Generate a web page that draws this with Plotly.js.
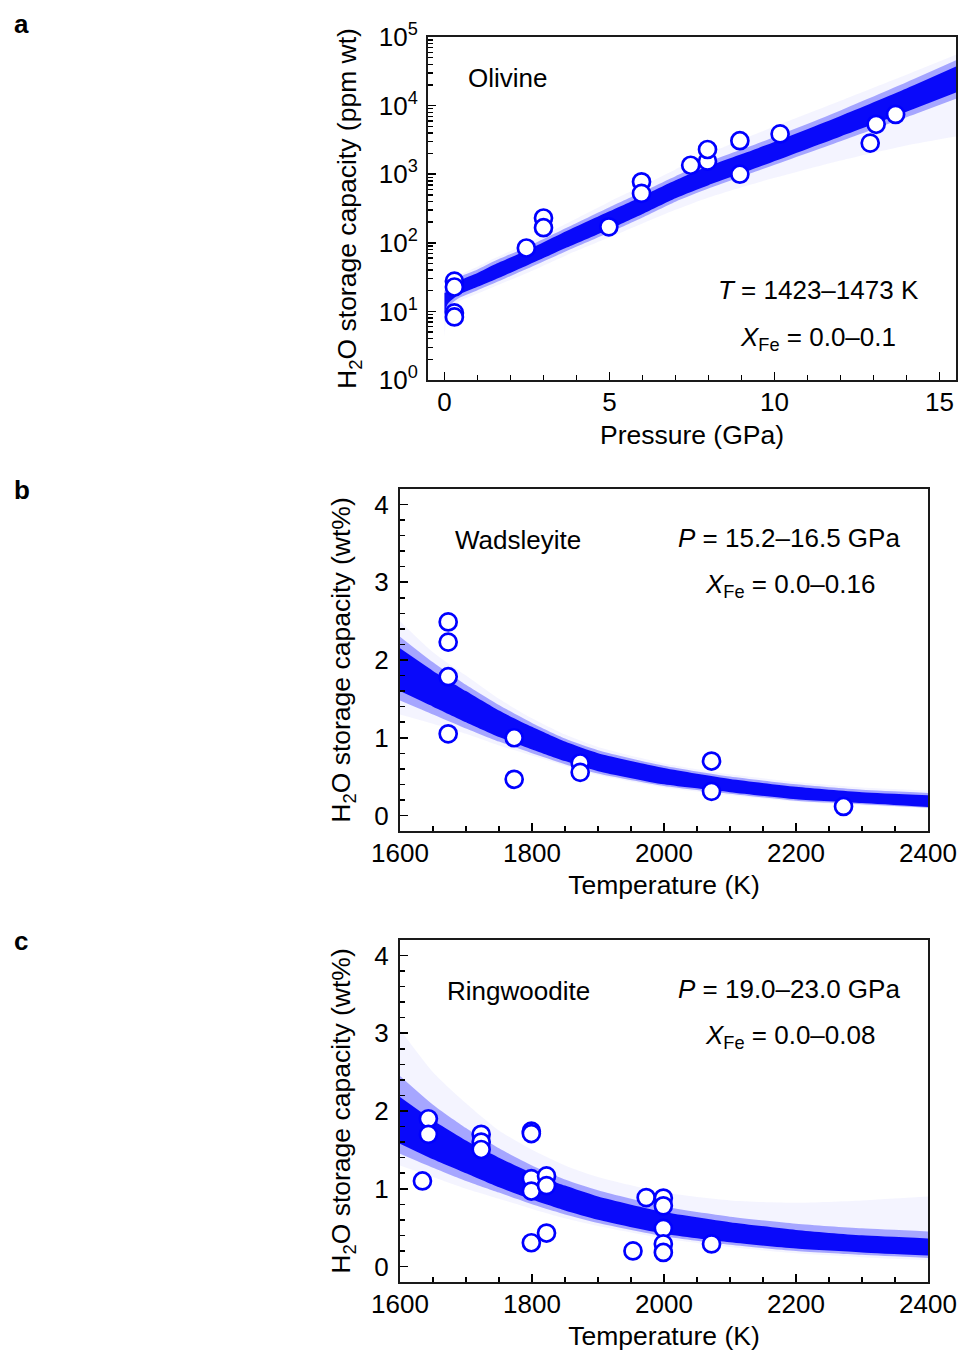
<!DOCTYPE html>
<html>
<head>
<meta charset="utf-8">
<script src="https://cdn.plot.ly/plotly-3.0.1.min.js"></script>
<style>html,body{margin:0;padding:0;background:#fff;}#chart{width:960px;height:1352px;}</style>
</head>
<body>
<div id="chart"></div>
<script>
// ---------- Panel a: Olivine (pressure GPa, H2O ppm wt) ----------
const olivinePressure = [0.3, 0.3, 0.3, 0.3, 2.48, 3.0, 3.0, 4.98, 5.97, 5.97, 7.46, 7.97, 7.97, 8.95, 8.95, 10.17, 12.9, 13.08, 13.67];
const olivineWater = [27.6, 22.7, 9.5, 8.3, 84, 230, 166, 171, 775, 525, 1350, 1550, 2290, 3080, 1000, 3870, 2840, 5340, 7440];
const olivineBandP = [0, 0.1, 0.3, 0.5, 1, 1.5, 2.5, 3.7, 5, 6, 7, 8, 9.5, 12, 14, 15.5];
const olivineCoreLow = [9.3, 12.9, 15.8, 18.2, 22.9, 28.8, 46.8, 85.1, 158, 263, 447, 692, 1259, 3548, 8128, 15490];
const olivineCoreHigh = [18.6, 19.5, 24, 28.8, 36.3, 47.9, 77.6, 148, 288, 479, 813, 1318, 2399, 7079, 17780, 37150];
const olivineMidLow = [7.1, 11.5, 14.1, 16.2, 20.4, 25.7, 41.7, 75.9, 141, 234, 398, 617, 1122, 3020, 6761, 12590];
const olivineMidHigh = [20, 21.4, 26.9, 32.4, 40.7, 53.7, 87.1, 166, 331, 550, 933, 1514, 2818, 8511, 21880, 45710];
const olivineOuterLow = [4.3, 10, 12.6, 14.5, 18.2, 22.9, 36.3, 66.1, 120, 191, 302, 457, 759, 1585, 2630, 3548];
const olivineOuterHigh = [20.9, 22.9, 28.8, 34.7, 44.7, 58.9, 97.7, 191, 398, 676, 1175, 1995, 3981, 11750, 28180, 54950];

// ---------- Panel b: Wadsleyite (temperature K, H2O wt%) ----------
const wadsTemp = [1673, 1673, 1673, 1673, 1773, 1773, 1873, 1873, 2072, 2072, 2272];
const wadsWater = [2.49, 2.23, 1.785, 1.05, 1.0, 0.465, 0.675, 0.555, 0.70, 0.31, 0.116];
const wadsBandT = [1600, 1650, 1700, 1750, 1800, 1850, 1900, 2000, 2100, 2200, 2300, 2400];
const wadsCoreLow = [1.6, 1.4, 1.2, 1.01, 0.85, 0.7, 0.57, 0.4, 0.3, 0.21, 0.16, 0.11];
const wadsCoreHigh = [2.15, 1.86, 1.6, 1.35, 1.14, 0.95, 0.8, 0.61, 0.47, 0.37, 0.3, 0.26];
const wadsMidLow = [1.48, 1.3, 1.12, 0.95, 0.8, 0.66, 0.54, 0.38, 0.28, 0.19, 0.145, 0.1];
const wadsMidHigh = [2.3, 1.97, 1.68, 1.42, 1.19, 0.99, 0.84, 0.64, 0.5, 0.4, 0.33, 0.29];
const wadsOuterLow = [1.3, 1.18, 1.05, 0.9, 0.77, 0.64, 0.52, 0.36, 0.26, 0.18, 0.13, 0.09];
const wadsOuterHigh = [2.5, 2.1, 1.8, 1.5, 1.25, 1.04, 0.88, 0.67, 0.53, 0.43, 0.36, 0.32];

// ---------- Panel c: Ringwoodite (temperature K, H2O wt%) ----------
const ringTemp = [1634, 1643, 1643, 1723, 1723, 1723, 1799, 1799, 1799, 1799, 1799, 1822, 1822, 1822, 1953, 1973, 1999, 1999, 1999, 1999, 1999, 2072];
const ringWater = [1.10, 1.90, 1.70, 1.70, 1.60, 1.505, 1.74, 1.71, 1.13, 0.97, 0.305, 1.165, 1.04, 0.43, 0.20, 0.886, 0.88, 0.78, 0.49, 0.29, 0.18, 0.29];
const ringBandT = [1600, 1650, 1700, 1750, 1800, 1850, 1900, 2000, 2100, 2200, 2300, 2400];
const ringCoreLow = [1.58, 1.38, 1.2, 1.02, 0.86, 0.72, 0.6, 0.42, 0.31, 0.23, 0.18, 0.14];
const ringCoreHigh = [2.18, 1.88, 1.62, 1.4, 1.2, 1.04, 0.9, 0.7, 0.57, 0.47, 0.4, 0.36];
const ringMidLow = [1.45, 1.27, 1.1, 0.95, 0.8, 0.67, 0.56, 0.39, 0.28, 0.2, 0.15, 0.11];
const ringMidHigh = [2.45, 2.08, 1.78, 1.52, 1.3, 1.12, 0.98, 0.77, 0.64, 0.55, 0.49, 0.45];
const ringOuterLow = [1.3, 1.15, 1.0, 0.87, 0.74, 0.62, 0.52, 0.36, 0.25, 0.17, 0.12, 0.08];
const ringOuterHigh = [3.05, 2.5, 2.1, 1.75, 1.5, 1.3, 1.15, 0.95, 0.85, 0.82, 0.85, 0.9];

// ---------- Tick labels ----------
const pressureTicks = [0, 5, 10, 15];
const pressureMinor = [1, 2, 3, 4, 6, 7, 8, 9, 11, 12, 13, 14];
const logTicks = [1, 10, 100, 1000, 10000, 100000];
const logTickText = ['10<sup>0</sup>', '10<sup>1</sup>', '10<sup>2</sup>', '10<sup>3</sup>', '10<sup>4</sup>', '10<sup>5</sup>'];
const tempTicks = [1600, 1800, 2000, 2200, 2400];
const tempMinor = [1650, 1700, 1750, 1850, 1900, 1950, 2050, 2100, 2150, 2250, 2300, 2350];
const wtTicks = [0, 1, 2, 3, 4];
const wtMinor = [-0.2, 0.2, 0.4, 0.6, 0.8, 1.2, 1.4, 1.6, 1.8, 2.2, 2.4, 2.6, 2.8, 3.2, 3.4, 3.6, 3.8, 4.2];

const logMinor = [];
[1, 10, 100, 1000, 10000].forEach(d => { for (let k = 2; k <= 9; k++) logMinor.push(d * k); });

const FONT = 'Liberation Sans, Arial, Helvetica, sans-serif';
const BLUE = '#0000ff';
const W = 960, H = 1352;
const px = v => v / W;
const py = v => 1 - v / H;

function band(x, outerLow, outerHigh, midLow, midHigh, coreLow, coreHigh, xa, ya, shape) {
  const base = {x: x, xaxis: xa, yaxis: ya, mode: 'lines', hoverinfo: 'skip', showlegend: false,
                line: {width: 0, shape: shape, smoothing: 0.6}};
  return [
    Object.assign({}, base, {y: outerLow}),
    Object.assign({}, base, {y: outerHigh, fill: 'tonexty', fillcolor: 'rgba(60,60,255,0.055)'}),
    Object.assign({}, base, {y: midLow}),
    Object.assign({}, base, {y: midHigh, fill: 'tonexty', fillcolor: 'rgba(20,20,255,0.35)'}),
    Object.assign({}, base, {y: coreLow}),
    Object.assign({}, base, {y: coreHigh, fill: 'tonexty', fillcolor: 'rgba(0,0,250,0.95)'})
  ];
}
function pts(x, y, xa, ya) {
  return {x: x, y: y, xaxis: xa, yaxis: ya, mode: 'markers', showlegend: false, cliponaxis: false,
          marker: {symbol: 'circle', size: 17, color: '#ffffff', line: {color: BLUE, width: 2.7}}};
}

const traces = [].concat(
  band(olivineBandP, olivineOuterLow, olivineOuterHigh, olivineMidLow, olivineMidHigh, olivineCoreLow, olivineCoreHigh, 'x', 'y', 'spline'),
  [pts(olivinePressure, olivineWater, 'x', 'y')],
  band(wadsBandT, wadsOuterLow, wadsOuterHigh, wadsMidLow, wadsMidHigh, wadsCoreLow, wadsCoreHigh, 'x2', 'y2', 'spline'),
  [pts(wadsTemp, wadsWater, 'x2', 'y2')],
  band(ringBandT, ringOuterLow, ringOuterHigh, ringMidLow, ringMidHigh, ringCoreLow, ringCoreHigh, 'x3', 'y3', 'spline'),
  [pts(ringTemp, ringWater, 'x3', 'y3')]
);

const tickFont = {family: FONT, size: 26, color: '#000'};
const titleFont = {family: FONT, size: 26.5, color: '#000'};
function axisBase(extra) {
  return Object.assign({
    showline: true, linecolor: '#1a1a1a', linewidth: 2, mirror: true,
    ticks: 'inside', ticklen: 8, tickwidth: 1.6, tickcolor: '#000',
    showgrid: false, zeroline: false, tickfont: tickFont, fixedrange: true
  }, extra);
}
const minorStyle = {tickmode: 'array', ticks: 'inside', ticklen: 5, tickwidth: 1.4, tickcolor: '#000'};

const layout = {
  width: W, height: H,
  margin: {l: 0, r: 0, t: 0, b: 0},
  paper_bgcolor: '#fff', plot_bgcolor: 'rgba(0,0,0,0)',
  showlegend: false,
  font: {family: FONT, size: 26, color: '#000'},
  xaxis: axisBase({domain: [px(428), px(956)], anchor: 'y', range: [-0.5, 15.5],
    tickmode: 'array', tickvals: pressureTicks, ticktext: pressureTicks.map(String), ticklabelstandoff: -2,
    minor: Object.assign({tickvals: pressureMinor}, minorStyle),
    title: {text: 'Pressure (GPa)', font: titleFont, standoff: 9}}),
  yaxis: axisBase({domain: [py(380), py(37)], anchor: 'x', type: 'log', range: [0, 5],
    tickmode: 'array', tickvals: logTicks, ticktext: logTickText, ticklabelstandoff: 3,
    minor: Object.assign({tickvals: logMinor}, minorStyle),
    title: {text: 'H<sub>2</sub>O storage capacity (ppm wt)', font: titleFont, standoff: 14}}),
  xaxis2: axisBase({domain: [px(400), px(928)], anchor: 'y2', range: [1600, 2400],
    tickmode: 'array', tickvals: tempTicks, ticktext: tempTicks.map(String), ticklabelstandoff: -2,
    minor: Object.assign({tickvals: tempMinor}, minorStyle),
    title: {text: 'Temperature (K)', font: titleFont, standoff: 8}}),
  yaxis2: axisBase({domain: [py(831), py(489)], anchor: 'x2', range: [-0.2, 4.2],
    tickmode: 'array', tickvals: wtTicks, ticktext: wtTicks.map(String), ticklabelstandoff: 4,
    minor: Object.assign({tickvals: wtMinor}, minorStyle),
    title: {text: 'H<sub>2</sub>O storage capacity (wt%)', font: titleFont, standoff: 16}}),
  xaxis3: axisBase({domain: [px(400), px(928)], anchor: 'y3', range: [1600, 2400],
    tickmode: 'array', tickvals: tempTicks, ticktext: tempTicks.map(String), ticklabelstandoff: -2,
    minor: Object.assign({tickvals: tempMinor}, minorStyle),
    title: {text: 'Temperature (K)', font: titleFont, standoff: 8}}),
  yaxis3: axisBase({domain: [py(1282), py(940)], anchor: 'x3', range: [-0.2, 4.2],
    tickmode: 'array', tickvals: wtTicks, ticktext: wtTicks.map(String), ticklabelstandoff: 4,
    minor: Object.assign({tickvals: wtMinor}, minorStyle),
    title: {text: 'H<sub>2</sub>O storage capacity (wt%)', font: titleFont, standoff: 16}}),
  annotations: []
};

function note(text, x, y, anchor, opts) {
  layout.annotations.push(Object.assign({
    text: text, xref: 'paper', yref: 'paper', x: px(x), y: py(y),
    xanchor: anchor, yanchor: 'middle', showarrow: false,
    font: {family: FONT, size: 26, color: '#000'}
  }, opts || {}));
}
// panel letters
note('<b>a</b>', 12, 24, 'left', {font: {family: FONT, size: 26, color: '#000'}});
note('<b>b</b>', 12, 490, 'left', {font: {family: FONT, size: 26, color: '#000'}});
note('<b>c</b>', 12, 941, 'left', {font: {family: FONT, size: 26, color: '#000'}});
// panel a
note('Olivine', 466, 78, 'left');
note('<i>T</i> = 1423–1473 K', 921, 290, 'right');
note('<i>X</i><sub>Fe</sub> = 0.0–0.1', 898, 338, 'right');
// panel b
note('Wadsleyite', 453, 540, 'left');
note('<i>P</i> = 15.2–16.5 GPa', 902, 538, 'right');
note('<i>X</i><sub>Fe</sub> = 0.0–0.16', 877, 585, 'right');
// panel c
note('Ringwoodite', 445, 991, 'left');
note('<i>P</i> = 19.0–23.0 GPa', 902, 989, 'right');
note('<i>X</i><sub>Fe</sub> = 0.0–0.08', 877, 1036, 'right');

Plotly.newPlot('chart', traces, layout, {staticPlot: true, displayModeBar: false});
</script>
</body>
</html>
